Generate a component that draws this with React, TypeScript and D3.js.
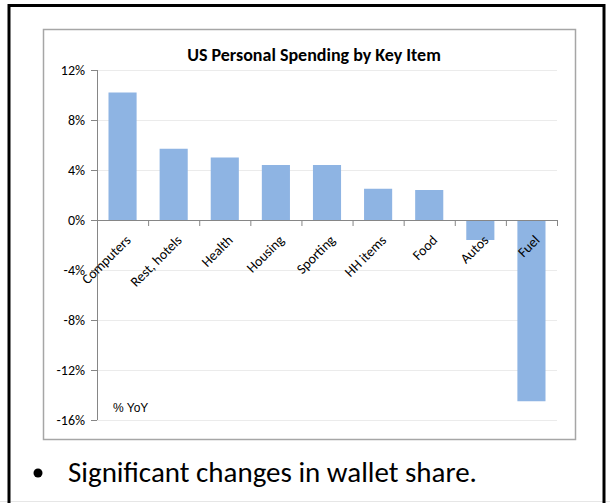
import React from "react";
import * as d3 from "d3";

const categories = ["Computers", "Rest, hotels", "Health", "Housing", "Sporting", "HH items", "Food", "Autos", "Fuel"];
const values = [10.2, 5.7, 5.0, 4.4, 4.4, 2.5, 2.4, -1.6, -14.5];
const yTicks = [12, 8, 4, 0, -4, -8, -12, -16];

const W = 610;
const H = 503;
const plot = { left: 97, right: 557, top: 70, bottom: 420 };
const font = "Carlito, Calibri, 'Open Sans', sans-serif";

export default function App() {
  const x = d3.scaleBand<string>().domain(categories).range([plot.left, plot.right]).paddingInner(0.45).paddingOuter(0.225);
  const xb = d3.scaleBand<string>().domain(categories).range([plot.left, plot.right]);
  const y = d3.scaleLinear().domain([-16, 12]).range([plot.bottom, plot.top]);
  const y0 = y(0);

  return (
    <svg width={W} height={H} style={{ position: "absolute", left: 0, top: 0 }} fontFamily={font}>
      <rect x={0} y={0} width={W} height={H} fill="#fff" />
      <line x1={0} x2={W} y1={501.5} y2={501.5} stroke="#e6e6e6" />
      <rect x={9} y={5.5} width={595} height={520} fill="none" stroke="#000" strokeWidth={3} />
      <rect x={43.5} y={29.5} width={532} height={410} fill="#fff" stroke="#a6a6a6" strokeWidth={1.5} />
      <text x={314} y={61} textAnchor="middle" fontSize={18} fontWeight="bold" fill="#000">
        US Personal Spending by Key Item
      </text>
      {yTicks.map((t) => (
        <g key={t}>
          {t !== 0 && (
            <line x1={plot.left} x2={plot.right} y1={y(t) + 0.5} y2={y(t) + 0.5} stroke="#ebebeb" strokeWidth={1} />
          )}
          <line x1={plot.left - 6} x2={plot.left} y1={y(t) + 0.5} y2={y(t) + 0.5} stroke="#868686" />
          <text x={85} y={y(t) + 4.5} textAnchor="end" fontSize={14} fill="#000">
            {t}%
          </text>
        </g>
      ))}
      {categories.map((c, i) => {
        const v = values[i];
        return (
          <rect
            key={c}
            x={x(c)}
            width={x.bandwidth()}
            y={Math.min(y(v), y0)}
            height={Math.abs(y(v) - y0)}
            fill="#8EB4E3"
          />
        );
      })}
      <line x1={plot.left + 0.5} x2={plot.left + 0.5} y1={plot.top} y2={plot.bottom} stroke="#868686" />
      <line x1={plot.left} x2={plot.right} y1={y0 + 0.5} y2={y0 + 0.5} stroke="#868686" />
      {categories.map((c) => (
        <line key={"t" + c} x1={(xb(c) as number) + xb.bandwidth() + 0.5} x2={(xb(c) as number) + xb.bandwidth() + 0.5} y1={y0} y2={y0 + 6} stroke="#868686" />
      ))}
      {categories.map((c) => {
        const cx = (xb(c) as number) + xb.bandwidth() / 2 + 9;
        const cy = y0 + 21;
        return (
          <text key={"l" + c} x={cx} y={cy} textAnchor="end" fontSize={14} fill="#000" transform={`rotate(-45 ${cx} ${cy})`}>
            {c}
          </text>
        );
      })}
      <text x={113} y={412} fontSize={12} fontFamily="'Liberation Sans', Arial, sans-serif" fill="#000">% YoY</text>
      <circle cx={38} cy={473} r={4.5} fill="#000" />
      <text x={68} y={482} fontSize={29} fill="#000">Significant changes in wallet share.</text>
    </svg>
  );
}
